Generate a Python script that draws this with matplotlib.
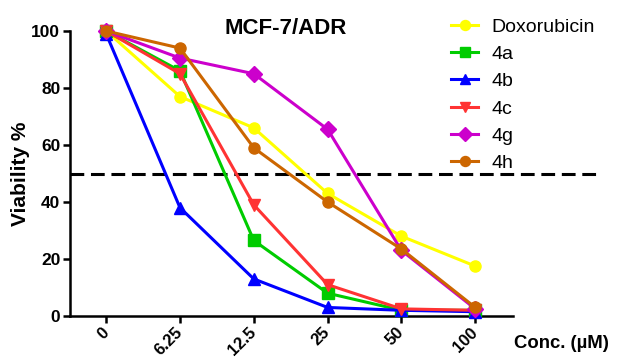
import matplotlib.pyplot as plt

plt.rcParams['font.family'] = ['Liberation Sans', 'DejaVu Sans']

conc_labels = ['0', '6.25', '12.5', '25', '50', '100']
doxorubicin = [100, 77, 66, 43, 28, 17.5]
cmp_4a = [100, 86, 26.5, 8, 2, 2]
cmp_4b = [99, 38, 13, 3, 2, 1.5]
cmp_4c = [100, 85, 39, 11, 2.5, 2]
cmp_4g = [100, 90.5, 85, 65.5, 23, 2.5]
cmp_4h = [100, 94, 59, 40, 23.5, 3]

series = [
    ('Doxorubicin', doxorubicin, '#FFFF00', 'o'),
    ('4a', cmp_4a, '#00CC00', 's'),
    ('4b', cmp_4b, '#0000FF', '^'),
    ('4c', cmp_4c, '#FF3333', 'v'),
    ('4g', cmp_4g, '#CC00CC', 'D'),
    ('4h', cmp_4h, '#CC6600', 'o'),
]

fig = plt.figure(figsize=(6.18, 3.58), dpi=100)
ax = fig.add_axes([70 / 618, 42 / 358, 530 / 618, 285 / 358])

x = list(range(len(conc_labels)))
for name, vals, color, marker in series:
    ax.plot(x, vals, color=color, marker=marker, lw=2.2, markersize=8,
            label=name, clip_on=False, zorder=3)

# 50% viability reference line
ax.axhline(50, color='black', lw=2.2, ls=(0, (4.5, 2.2)), zorder=2)

ax.set_xlim(-0.49, 6.69)
ax.set_ylim(0, 100)
ax.spines['top'].set_visible(False)
ax.spines['right'].set_visible(False)
ax.spines['bottom'].set_bounds(-0.49, 5.51)
for s in ['left', 'bottom']:
    ax.spines[s].set_linewidth(1.8)

ax.set_xticks(x)
ax.set_xticklabels(conc_labels, rotation=45, ha='right', va='center',
                   rotation_mode='anchor', fontsize=12, fontweight='bold')
ax.set_yticks([0, 20, 40, 60, 80, 100])
ax.set_yticklabels(['0', '20', '40', '60', '80', '100'], fontsize=12.5, fontweight='bold')
ax.tick_params(width=1.8, length=5, direction='out')
ax.tick_params(axis='x', pad=5)
ax.tick_params(axis='y', pad=2)

ax.set_ylabel('Viability %', fontsize=15, fontweight='bold', labelpad=1)
fig.text(514 / 618, 1 - 343 / 358, 'Conc. (\u00b5M)', fontsize=13.3,
         fontweight='bold', va='center', ha='left')
fig.text(286 / 618, 1 - 28 / 358, 'MCF-7/ADR', fontsize=16,
         fontweight='bold', va='center', ha='center')

ax.legend(loc='upper left', bbox_to_anchor=(451 / 618, 1 - 18 / 358),
          bbox_transform=fig.transFigure, frameon=False, fontsize=14,
          handlelength=1.4, labelspacing=0.5, handletextpad=0.7,
          borderpad=0, borderaxespad=0, markerscale=0.9)

fig.savefig('out.png', dpi=100)
